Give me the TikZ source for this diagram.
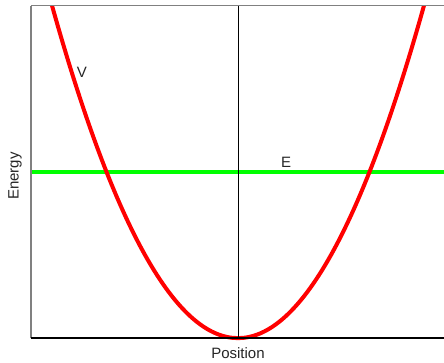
\documentclass[tikz,border=0pt]{standalone}
\usepackage{fontspec}
\setmainfont{Liberation Sans}
\begin{document}
\begin{tikzpicture}[x=1pt,y=-1pt,
  axisline/.style={draw=black!50,line width=1.2pt},
  baseaxis/.style={draw=black,line width=1.2pt},
  curveV/.style={draw=red,line width=4pt},
  levelE/.style={draw=green,line width=4.5pt},
  midline/.style={draw=black,line width=1pt},
  lbl/.style={font=\fontsize{15}{18}\selectfont,text=black!85,inner sep=0pt}]
\useasboundingbox[fill=white] (0,0) rectangle (444,362);
% frame coordinates
\coordinate (tl) at (31,5.5);
\coordinate (tr) at (444,5.5);
\coordinate (bl) at (31,338);
\coordinate (br) at (444,338);
\coordinate (mt) at (238,5.5);
\coordinate (mb) at (238,338);
\coordinate (el) at (31,172);
\coordinate (er) at (444,172);
% parabola
\coordinate (pl) at (52,5.5);
\coordinate (pr) at (424,5.5);
\coordinate (c1) at (176,449);
\coordinate (c2) at (300,449);
\draw[levelE] (el) -- (er);
\begin{scope}
\clip (31,5.5) rectangle (444,345);
\draw[curveV] (pl) .. controls (c1) and (c2) .. (pr);
\end{scope}
\draw[midline] (mt) -- (mb);
\draw[axisline] (tl) -- (tr);
\draw[axisline] (tl) -- (bl);
\draw[baseaxis] (bl) -- (br);
\node[lbl] (V) at (82,72) {V};
\node[lbl] (E) at (286,162) {E};
\node[lbl,rotate=90] (en) at (15,176) {Energy};
\node[lbl] (pos) at (238,353) {Position};
\end{tikzpicture}
\end{document}
